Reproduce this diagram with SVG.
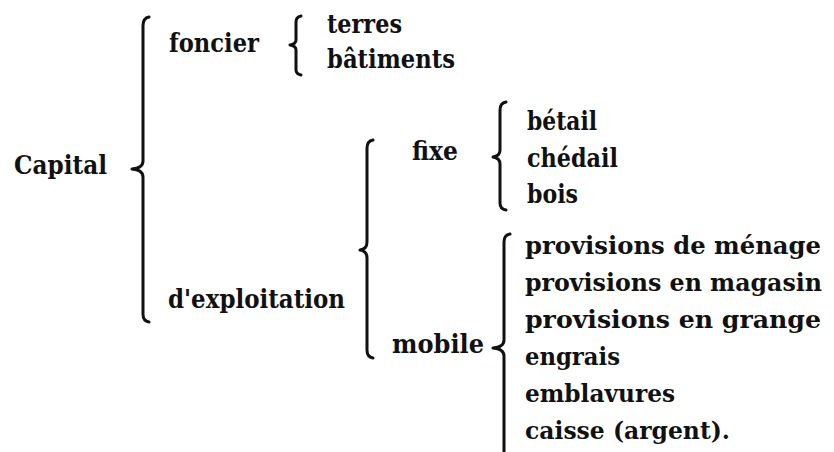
<svg xmlns="http://www.w3.org/2000/svg" width="834" height="452" viewBox="0 0 834 452">
<style>
text{font-family:"DejaVu Serif","Liberation Serif",serif;font-weight:bold;font-size:26px;fill:#111}
text.l{font-size:24px}
.br{fill:none;stroke:#111;stroke-width:3;stroke-linecap:round;stroke-linejoin:round}
</style>
<rect width="834" height="452" fill="#fff"/>
<g id="connectors">
<path class="br" d="M149,17 Q143,18 143,26 L143,161 Q143,168 132,169 Q143,170 143,177 L143,314 Q143,321 149,322"/>
<path class="br" d="M301,16 Q296,17 296,22 L296,40 Q296,44 290,45 Q296,46 296,50 L296,70 Q296,74 301,75"/>
<path class="br" d="M373,140 Q367,141 367,148 L367,242 Q367,249 360,250 Q367,251 367,258 L367,350 Q367,357 373,358"/>
<path class="br" d="M506,102 Q500,103 500,110 L500,150 Q500,156 493,157 Q500,158 500,164 L500,203 Q500,209 506,210"/>
<path class="br" d="M510,234 Q504,235 504,242 L504,340 Q504,347 493,348 Q504,349 504,356 L504,470"/>
</g>
<g id="capital"><text x="14" y="174" textLength="93" lengthAdjust="spacingAndGlyphs">Capital</text></g>
<g id="foncier"><text x="169" y="52" textLength="90" lengthAdjust="spacingAndGlyphs">foncier</text></g>
<g id="terres"><text x="327" y="33" textLength="75" lengthAdjust="spacingAndGlyphs">terres</text></g>
<g id="batiments"><text x="327" y="68" textLength="128" lengthAdjust="spacingAndGlyphs">bâtiments</text></g>
<g id="exploitation"><text x="168" y="308" textLength="177" lengthAdjust="spacingAndGlyphs">d'exploitation</text></g>
<g id="fixe"><text x="412" y="160" textLength="46" lengthAdjust="spacingAndGlyphs">fixe</text></g>
<g id="mobile"><text x="392" y="353" textLength="92" lengthAdjust="spacingAndGlyphs">mobile</text></g>
<g id="betail"><text x="527" y="130" textLength="70" lengthAdjust="spacingAndGlyphs">bétail</text></g>
<g id="chedail"><text x="527" y="167" textLength="91" lengthAdjust="spacingAndGlyphs">chédail</text></g>
<g id="bois"><text x="527" y="203" textLength="51" lengthAdjust="spacingAndGlyphs">bois</text></g>
<g id="menage"><text class="l" x="525" y="254" textLength="296" lengthAdjust="spacingAndGlyphs">provisions de ménage</text></g>
<g id="magasin"><text class="l" x="525" y="291" textLength="297" lengthAdjust="spacingAndGlyphs">provisions en magasin</text></g>
<g id="grange"><text class="l" x="525" y="328" textLength="296" lengthAdjust="spacingAndGlyphs">provisions en  grange</text></g>
<g id="engrais"><text class="l" x="525" y="365" textLength="95" lengthAdjust="spacingAndGlyphs">engrais</text></g>
<g id="emblavures"><text class="l" x="525" y="402" textLength="150" lengthAdjust="spacingAndGlyphs">emblavures</text></g>
<g id="caisse"><text class="l" x="525" y="439" textLength="205" lengthAdjust="spacingAndGlyphs">caisse (argent).</text></g>
</svg>
